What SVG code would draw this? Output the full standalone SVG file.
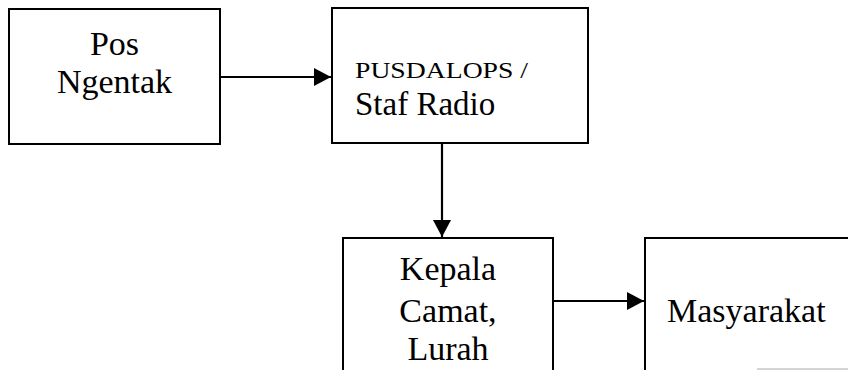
<svg xmlns="http://www.w3.org/2000/svg" width="848" height="370" viewBox="0 0 848 370">
<style>
.box{fill:#fff;stroke:#000;stroke-width:2}
.t{font-family:'Liberation Serif','Times New Roman','DejaVu Serif',serif;fill:#000}
.c{text-anchor:middle}
.line{stroke:#000;stroke-width:2.2;fill:none}
</style>
<defs>
<marker id="ah" viewBox="0 0 17 18" refX="17" refY="9" markerWidth="17" markerHeight="18" markerUnits="userSpaceOnUse" orient="auto">
<path d="M0,0 L17,9 L0,18 Z" fill="#000"/>
</marker>
</defs>
<rect width="848" height="370" fill="#fff"/>
<g id="pos-ngentak">
<rect class="box" x="9" y="9" width="211" height="135"/>
<text class="t c" x="114.5" y="55" font-size="34" font-family="Liberation Serif, serif">Pos</text>
<text class="t c" x="114.5" y="93" font-size="34" font-family="Liberation Serif, serif">Ngentak</text>
</g>
<g id="pusdalops">
<rect class="box" x="332" y="8" width="256" height="135"/>
<text class="t" x="355" y="78" font-size="24" textLength="173" lengthAdjust="spacingAndGlyphs" font-family="Liberation Serif, serif">PUSDALOPS /</text>
<text class="t" x="355" y="115" font-size="33" font-family="Liberation Serif, serif">Staf Radio</text>
</g>
<g id="kepala">
<rect class="box" x="343" y="238" width="210" height="140"/>
<text class="t c" x="448" y="280" font-size="34" font-family="Liberation Serif, serif">Kepala</text>
<text class="t c" x="448" y="322" font-size="34" font-family="Liberation Serif, serif">Camat,</text>
<text class="t c" x="448" y="360" font-size="34" font-family="Liberation Serif, serif">Lurah</text>
</g>
<g id="masyarakat">
<rect class="box" x="645" y="238" width="220" height="140"/>
<text class="t" x="667" y="322" font-size="34" font-family="Liberation Serif, serif">Masyarakat</text>
</g>
<g id="connectors">
<line class="line" x1="220" y1="77" x2="331" y2="77" marker-end="url(#ah)"/>
<line class="line" x1="442" y1="143" x2="442" y2="237" marker-end="url(#ah)"/>
<line class="line" x1="553" y1="301" x2="644" y2="301" marker-end="url(#ah)"/>
</g>
<line x1="757" y1="369" x2="848" y2="369" stroke="#aaa" stroke-width="1"/>
</svg>
